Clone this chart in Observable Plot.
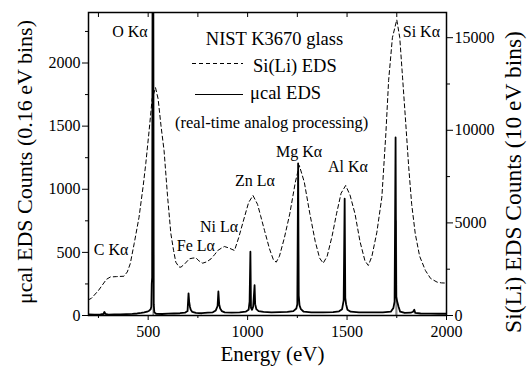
<!DOCTYPE html>
<html><head><meta charset="utf-8">
<script src="https://cdn.jsdelivr.net/npm/d3@7"></script>
<script src="https://cdn.jsdelivr.net/npm/@observablehq/plot@0.6"></script>
<style>
body{margin:0;background:#fff;}
#wrap{width:529px;height:368px;}
</style></head><body><div id="wrap"></div>
<script>
// μcal EDS spectrum (left axis, counts per 0.16 eV bin)
const muE = [200,230,260,275,280,285,300,330,360,390,420,445,465,480,495,505,512,516,518,520,522,526,528,531,540,570,600,630,660,685,698,703,706,710,714,722,740,770,800,825,840,849,853,857,862,870,885,920,960,990,1005,1010,1014,1017,1022,1028,1035,1038,1044,1055,1080,1120,1160,1200,1230,1245,1250,1254,1257,1261,1268,1282,1320,1380,1430,1460,1475,1483,1488,1491,1495,1502,1518,1560,1620,1680,1720,1733,1739,1744,1747,1752,1759,1767,1790,1820,1832,1838,1843,1870,1920,1960,2000];
const muC = [8,6,9,12,28,12,7,9,8,11,13,16,20,24,30,38,48,70,250,300,2600,2600,90,25,14,12,15,16,18,22,35,175,110,70,45,28,20,18,22,25,40,75,190,90,55,35,25,22,25,30,45,110,505,60,45,70,240,90,50,35,28,25,27,28,35,55,90,1205,160,80,50,30,25,25,26,33,50,120,925,140,90,45,30,25,25,24,30,60,110,1410,150,110,70,30,20,22,30,45,20,16,15,14,14];
// grey companion trace under the O and Si peaks
const grayE = [524,526,529,532,1745,1748,1753,1756];
const grayC = [0,880,860,0,0,760,740,0];
// Si(Li) EDS spectrum (right axis, counts per 10 eV bin)
const siE = [200,215,250,290,310,340,378,395,410,430,454,475,488,505,520,537,550,565,580,597,614,628,639,655,665,685,707,725,740,755,774,795,816,835,850,870,883,905,934,955,984,1005,1027,1050,1065,1085,1110,1130,1144,1160,1185,1212,1240,1260,1285,1313,1340,1362,1380,1400,1425,1447,1470,1493,1515,1540,1565,1590,1607,1625,1650,1675,1695,1709,1728,1750,1765,1779,1795,1810,1825,1843,1865,1894,1920,1953,1975,2000];
const siC = [850,930,1350,1950,2080,2100,2120,2350,2800,3900,5300,7000,8200,10000,11700,12300,11700,10200,8900,6500,4430,3500,2880,2620,2610,2800,3060,3100,3115,2950,2825,2900,3060,3300,3510,3650,3725,3650,3510,4200,5310,6100,6480,6000,5400,4590,3600,3000,2880,3200,4200,5490,7200,8100,7200,5490,4000,3100,2825,3200,4300,5490,6600,7020,6500,5490,4000,2950,2700,3200,4500,6390,9800,12690,15000,15970,15000,12870,10400,8010,6000,4410,3200,2430,2000,1800,1760,1750];
// peak labels
const labelText = ["C Kα","O Kα","Fe Lα","Ni Lα","Zn Lα","Mg Kα","Al Kα","Si Kα"];
const labelE = [227,319,644,760,936,1143,1404,1780];
const labelC = [520,2245,548,699,1068,1300,1179,2250];
// ticks
const xMajor = [500,1000,1500,2000];
const xMinor = [250,750,1250,1750];
const yMajor = [0,500,1000,1500,2000];
const yMinor = [250,750,1250,1750,2250];
const rMajor = [0,5000,10000,15000];
const rMinor = [2500,7500,12500];
const rightMax = 16360;

const K = 2400 / rightMax;
const mu = muE.map((e,i)=>({e, c: muC[i]}));
const gr = grayE.map((e,i)=>({e, c: grayC[i]}));
const si = siE.map((e,i)=>({e, c: siC[i]}));
const labs = labelText.map((t,i)=>({t, e: labelE[i], c: labelC[i]}));
const F = '"Liberation Serif", "Times New Roman", Times, serif';
const fmt = d => String(d);

const plot = Plot.plot({
  width: 529, height: 368,
  marginLeft: 88, marginRight: 83, marginTop: 12, marginBottom: 53,
  style: {fontFamily: F, fontSize: "16px", background: "white", color: "black", overflow: "visible"},
  x: {domain: [200, 2000], label: null},
  y: {domain: [0, 2400], label: null},
  marks: [
    Plot.line(si, {x: "e", y: d => d.c * K, stroke: "black", strokeWidth: 1, strokeDasharray: "4,3", clip: true}),
    Plot.areaY(gr, {x: "e", y: "c", fill: "#8a8a8a", clip: true}),
    Plot.line(mu, {x: "e", y: "c", stroke: "black", strokeWidth: 1.8, clip: true}),
    Plot.text(labs, {x: "e", y: "c", text: "t", textAnchor: "start", fontSize: 16, fontFamily: F}),
    Plot.axisX({ticks: xMajor, tickSize: 5, tickPadding: 5, fontSize: 16, tickFormat: fmt, label: null}),
    Plot.axisX({ticks: xMinor, tickSize: 3, tickFormat: () => "", label: null}),
    Plot.axisX({anchor: "top", ticks: xMinor.concat(xMajor), tickSize: -4, tickFormat: () => "", label: null}),
    Plot.axisY({ticks: yMajor, tickSize: 6, tickPadding: 2, fontSize: 16, tickFormat: fmt, label: null}),
    Plot.axisY({ticks: yMinor, tickSize: 3, tickFormat: () => "", label: null}),
    Plot.axisY({anchor: "right", ticks: rMajor.map(v => v * K), tickSize: 6, tickPadding: 2, fontSize: 16,
      tickFormat: d => String(Math.round(d / K / 100) * 100), label: null}),
    Plot.axisY({anchor: "right", ticks: rMinor.map(v => v * K), tickSize: 3, tickFormat: () => "", label: null}),
    Plot.frame({stroke: "black", strokeWidth: 1.5})
  ]
});
document.getElementById("wrap").appendChild(plot);

const svg = d3.select(plot);
const g = svg.append("g").style("font-family", F).attr("fill", "black").attr("text-anchor", "start");
g.append("text").attr("x", 274.5).attr("y", 45).attr("text-anchor", "middle").attr("font-size", 18.5).text("NIST K3670 glass");
g.append("line").attr("x1", 192).attr("x2", 243).attr("y1", 63.5).attr("y2", 63.5).attr("stroke", "black").attr("stroke-dasharray", "4,3");
g.append("text").attr("x", 253).attr("y", 71.5).attr("text-anchor", "start").attr("font-size", 18.5).text("Si(Li) EDS");
g.append("line").attr("x1", 195).attr("x2", 243).attr("y1", 94.5).attr("y2", 94.5).attr("stroke", "black").attr("stroke-width", 1.2);
g.append("text").attr("x", 250).attr("y", 99).attr("text-anchor", "start").attr("font-size", 18.5).text("μcal EDS");
g.append("text").attr("x", 271.7).attr("y", 128).attr("text-anchor", "middle").attr("font-size", 16.5).text("(real-time analog processing)");
g.append("text").attr("x", 272.5).attr("y", 361).attr("text-anchor", "middle").attr("font-size", 21).text("Energy (eV)");
g.append("text").attr("transform", "translate(32,162) rotate(-90)").attr("text-anchor", "middle").attr("font-size", 22).text("μcal EDS Counts (0.16 eV bins)");
g.append("text").attr("transform", "translate(521,182) rotate(-90)").attr("text-anchor", "middle").attr("font-size", 23.5).text("Si(Li) EDS Counts (10 eV bins)");
</script></body></html>
